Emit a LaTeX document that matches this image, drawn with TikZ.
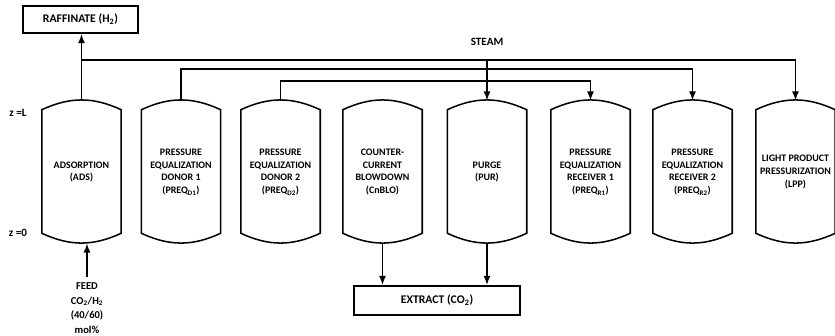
\documentclass[tikz,border=0pt]{standalone}
\usepackage{fontspec}
\setmainfont{Carlito}
\usetikzlibrary{arrows.meta,calc}

% straight shell with a domed head at each end, drawn round a bed node
\newcommand{\bedoutline}[1]{%
  \draw[bedline] ($(#1.north west)+(0,9)$) -- ($(#1.south west)+(0,-10)$)
    to[bend right=25] ($(#1.south east)+(0,-10)$) -- ($(#1.north east)+(0,9)$)
    to[bend right=25] ($(#1.north west)+(0,9)$) -- cycle;}

\begin{document}
\begin{tikzpicture}[x=0.03cm, y=-0.03cm, >={Latex[length=8pt,width=6pt]},
    bed/.style={minimum width=2.37cm, minimum height=4.26cm, inner sep=0pt,
      align=center, font=\fontsize{8.5}{11}\selectfont\bfseries},
    bedline/.style={line width=1.3pt},
    box/.style={draw, line width=1.4pt, inner sep=0pt,
      font=\fontsize{10}{12}\selectfont\bfseries},
    tag/.style={font=\fontsize{9.5}{12}\selectfont\bfseries},
    flow/.style={->, line width=1.5pt}]
  \useasboundingbox (0,0) rectangle (835,336);

  % products and labels
  \node[box, minimum width=3.45cm, minimum height=0.81cm] (raff) at (80.5,19.5) {RAFFINATE (H\textsubscript{2})};
  \node[box, minimum width=4.98cm, minimum height=0.87cm] (ext) at (437,300.5) {EXTRACT (CO\textsubscript{2})};
  \node[tag] (steam) at (487,42) {STEAM};
  \node[tag] (zl) at (18,113) {z =L};
  \node[tag] (z0) at (18,233) {z =0};
  \node[tag, align=center, anchor=north, inner sep=0pt, font=\fontsize{9}{12.75}\selectfont\bfseries]
    (feed) at (87,282) {FEED\\CO\textsubscript{2}/H\textsubscript{2}\\(40/60)\\mol\%};

  % the eight steps
  \node[bed] (ads) at (81.5,172) {ADSORPTION\\(ADS)};
  \node[bed] (don1) at (181,172) {PRESSURE\\EQUALIZATION\\DONOR 1\\(PREQ\textsubscript{D1})};
  \node[bed] (don2) at (280.5,172) {PRESSURE\\EQUALIZATION\\DONOR 2\\(PREQ\textsubscript{D2})};
  \node[bed] (blo) at (382.5,172) {COUNTER-\\CURRENT\\BLOWDOWN\\(CnBLO)};
  \node[bed] (pur) at (487,172) {PURGE\\(PUR)};
  \node[bed] (rec1) at (590.5,172) {PRESSURE\\EQUALIZATION\\RECEIVER 1\\(PREQ\textsubscript{R1})};
  \node[bed] (rec2) at (692.5,172) {PRESSURE\\EQUALIZATION\\RECEIVER 2\\(PREQ\textsubscript{R2})};
  \node[bed] (lpp) at (795.5,172) {LIGHT PRODUCT\\PRESSURIZATION\\(LPP)};
  \bedoutline{ads}
  \bedoutline{don1}
  \bedoutline{don2}
  \bedoutline{blo}
  \bedoutline{pur}
  \bedoutline{rec1}
  \bedoutline{rec2}
  \bedoutline{lpp}

  % header levels
  \coordinate (hdr) at (487,60);
  \coordinate (eqa) at (181,69);
  \coordinate (eqb) at (281,81);

  % connections
  \draw[flow] (ads.north) -- (ads.north |- raff.south);
  \draw[flow] (ads.north |- hdr) -| (lpp.north);
  \draw[flow] (hdr) -- (pur.north);
  \draw[flow] (don1.north) -- (don1.north |- eqa) -| (rec2.north);
  \draw[flow] (don2.north) -- (don2.north |- eqb) -| (rec1.north);
  \draw[flow] (blo.south) -- (blo.south |- ext.north);
  \draw[flow] (pur.south) -- (pur.south |- ext.north);
  \draw[flow] ([yshift=4pt]feed.north) -- (feed.north |- ads.south);
\end{tikzpicture}
\end{document}
